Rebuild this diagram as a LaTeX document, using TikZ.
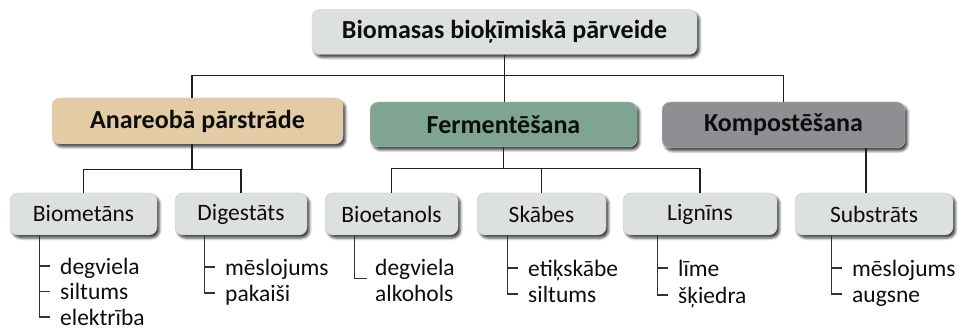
\documentclass[tikz,border=0pt]{standalone}
\usepackage{fontspec}
\setmainfont{Carlito}
\usetikzlibrary{positioning,shadows.blur}
\definecolor{boxgrey}{HTML}{DCE1DD}
\definecolor{anaertan}{HTML}{E3CBA6}
\definecolor{fermgreen}{HTML}{7FA592}
\definecolor{kompgrey}{HTML}{8E8F93}

\begin{document}
\begin{tikzpicture}[
    x=1pt, y=-1pt,
    every node/.style={inner sep=0pt, align=center, text=black!95},
    box/.style={
        fill=boxgrey, draw=black!20, line width=.4pt,
        rounded corners=8pt,
        blur shadow={shadow xshift=2.5pt, shadow yshift=-3pt,
                     shadow blur radius=2.5pt, shadow opacity=75}
    },
    head/.style={box, minimum height=45pt,
        font=\bfseries\fontsize{26}{28}\selectfont},
    leaf/.style={box, minimum height=42pt,
        font=\fontsize{23.5}{26}\selectfont},
    item/.style={anchor=west, inner xsep=10pt, align=left,
        text height=20pt, text depth=3pt,
        font=\fontsize{23.5}{26}\selectfont},
    link/.style={line width=1.3pt, black!88},
    twig/.style={line width=1.2pt, black!80}
]
\useasboundingbox (0,0) rectangle (961,328);

% level 0 and 1
\node[head, minimum width=385pt] (top) at (504.5,32) {Biomasas bioķīmiskā pārveide};
\node[head, fill=anaertan, minimum width=291pt, minimum height=46pt] (anaer) at (197.5,121) {Anareobā pārstrāde};
\node[head, fill=fermgreen, minimum width=267pt] (ferm) at (503.5,124.5) {Fermentēšana};
\node[head, fill=kompgrey, minimum width=243pt, minimum height=46pt] (komp) at (783.5,125) {Kompostēšana};

% level 2
\node[leaf, minimum width=147pt] (biomet) at (83.5,214) {Biometāns};
\node[leaf, minimum width=132pt] (digest) at (241,214) {Digestāts};
\node[leaf, minimum width=133pt] (bioet) at (391.5,214) {Bioetanols};
\node[leaf, minimum width=129pt] (skabes) at (541.5,214) {Skābes};
\node[leaf, minimum width=154pt] (lignins) at (700,214) {Lignīns};
\node[leaf, minimum width=158pt] (substr) at (874,214) {Substrāts};

% connectors
\draw[link] ([xshift=-5.5pt]anaer.north) -- ++(0,-22) -| (komp.north);
\draw[link] (top.south) -- (top.south |- ferm.north);
\draw[link] ([xshift=-5.5pt]anaer.south) -- ++(0,25) coordinate (abus);
\draw[link] (biomet.north) |- (digest.north |- abus) -- (digest.north);
\draw[link] (ferm.south) -- ++(0,21) coordinate (fbus);
\draw[link] (bioet.north) |- (lignins.north |- fbus) -- (lignins.north);
\draw[link] (skabes.north) -- (skabes.north |- fbus);
\draw[link] ([xshift=-8pt]substr.north) -- ([xshift=-8pt]substr.north |- komp.south);

% lists
\node[item] (bm1) at (50,266) {degviela};
\node[item] (bm2) at (50,291.5) {siltums};
\node[item] (bm3) at (50,317) {elektrība};
\foreach \n in {bm1,bm2,bm3}
    \draw[twig] ([xshift=30pt]biomet.south west) |- (\n.west);

\node[item] (dg1) at (215,267) {mēslojums};
\node[item] (dg2) at (215,293) {pakaiši};
\foreach \n in {dg1,dg2}
    \draw[twig] ([xshift=30pt]digest.south west) |- (\n.west);

\node[item, inner xsep=8pt] (be1) at (367,267) {degviela};
\node[item, inner xsep=8pt] (be2) at (367,293) {alkohols};
\draw[twig] ([xshift=30pt]bioet.south west) |- (be1.south west);

\node[item] (sk1) at (518,268) {etiķskābe};
\node[item] (sk2) at (518,294) {siltums};
\foreach \n in {sk1,sk2}
    \draw[twig] ([xshift=31pt]skabes.south west) |- (\n.west);

\node[item] (lg1) at (668,268) {līme};
\node[item] (lg2) at (668,295) {šķiedra};
\foreach \n in {lg1,lg2}
    \draw[twig] ([xshift=35pt]lignins.south west) |- (\n.west);

\node[item] (sb1) at (842,268) {mēslojums};
\node[item] (sb2) at (842,294) {augsne};
\foreach \n in {sb1,sb2}
    \draw[twig] ([xshift=37pt]substr.south west) |- (\n.west);
\end{tikzpicture}
\end{document}
